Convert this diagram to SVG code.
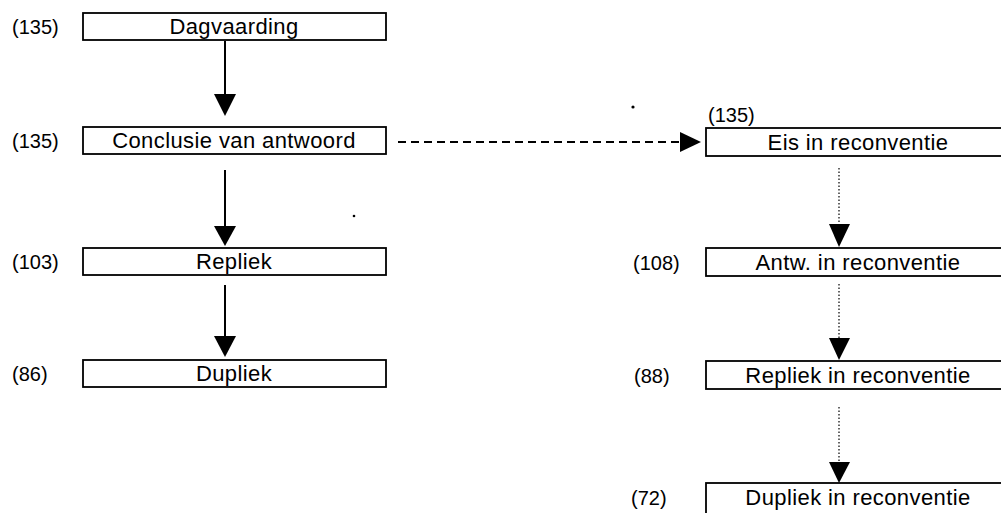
<svg xmlns="http://www.w3.org/2000/svg" width="1001" height="513" viewBox="0 0 1001 513">
<style>
.box{fill:#fff;stroke:#000;stroke-width:1.8}
.t{font-family:"Liberation Sans",Arial,sans-serif;font-size:22px;letter-spacing:0.4px;fill:#000;text-anchor:middle}
.lb{font-family:"Liberation Sans",Arial,sans-serif;font-size:20px;fill:#000}
.solid{stroke:#000;stroke-width:2;fill:none}
.dash{stroke:#000;stroke-width:2;fill:none;stroke-dasharray:8 5}
.dot{stroke:#000;stroke-width:1.2;fill:none;stroke-dasharray:1.5 2}
.head{fill:#000}
</style>
<rect width="1001" height="513" fill="#fff"/>
<g id="n-dagvaarding">
<rect class="box" x="83" y="13" width="303" height="27"/>
<text class="t" x="234" y="34">Dagvaarding</text>
<text class="lb" x="12" y="34">(135)</text>
</g>
<g id="n-conclusie">
<rect class="box" x="83" y="127" width="303" height="27"/>
<text class="t" x="234" y="148">Conclusie van antwoord</text>
<text class="lb" x="12" y="148">(135)</text>
</g>
<g id="n-repliek">
<rect class="box" x="83" y="248" width="303" height="27"/>
<text class="t" x="234" y="269">Repliek</text>
<text class="lb" x="12" y="269">(103)</text>
</g>
<g id="n-dupliek">
<rect class="box" x="83" y="360" width="303" height="27"/>
<text class="t" x="234" y="381">Dupliek</text>
<text class="lb" x="12" y="381">(86)</text>
</g>
<g id="n-eis">
<rect class="box" x="706" y="128" width="320" height="28"/>
<text class="t" x="858" y="150">Eis in reconventie</text>
<text class="lb" x="708" y="122">(135)</text>
</g>
<g id="n-antw">
<rect class="box" x="706" y="248" width="320" height="28"/>
<text class="t" x="858" y="270">Antw. in reconventie</text>
<text class="lb" x="633" y="270">(108)</text>
</g>
<g id="n-repliek-rec">
<rect class="box" x="706" y="361" width="320" height="28"/>
<text class="t" x="858" y="383">Repliek in reconventie</text>
<text class="lb" x="634" y="383">(88)</text>
</g>
<g id="n-dupliek-rec">
<rect class="box" x="706" y="483" width="320" height="40"/>
<text class="t" x="858" y="505">Dupliek in reconventie</text>
<text class="lb" x="631" y="505">(72)</text>
</g>
<g id="connectors">
<line class="solid" x1="225" y1="41" x2="225" y2="95"/>
<polygon class="head" points="214,94 236,94 225,116"/>
<line class="solid" x1="225" y1="170" x2="225" y2="227"/>
<polygon class="head" points="214,226 236,226 225,246"/>
<line class="solid" x1="225" y1="285" x2="225" y2="337"/>
<polygon class="head" points="214,336 236,336 225,357"/>
<line class="dash" x1="398" y1="142" x2="681" y2="142"/>
<polygon class="head" points="680,132 680,152 701,142"/>
<line class="dot" x1="839" y1="168" x2="839" y2="225"/>
<polygon class="head" points="829,224 850,224 839,247"/>
<line class="dot" x1="839" y1="284" x2="839" y2="339"/>
<polygon class="head" points="829,338 850,338 839,360"/>
<line class="dot" x1="839" y1="407" x2="839" y2="463"/>
<polygon class="head" points="829,462 850,462 839,483"/>
</g>
<g id="specks">
<circle cx="633" cy="107" r="1.6" fill="#000"/>
<circle cx="354" cy="216" r="1.3" fill="#000"/>
</g>
</svg>
